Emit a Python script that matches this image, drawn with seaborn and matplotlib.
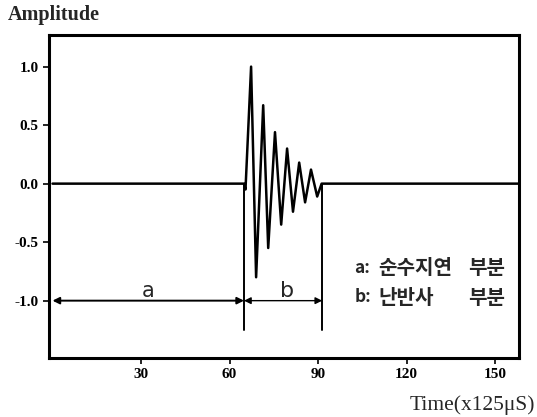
import matplotlib
matplotlib.use("Agg")
import matplotlib.pyplot as plt
import seaborn as sns
import pandas as pd

# data
time = [0, 64.9, 65.4, 67.3, 69.0, 71.4, 73.1, 75.4, 77.5, 79.5, 81.5, 83.6, 85.6, 87.6, 89.7, 91.2, 158]
amplitude = [0, 0, -0.05, 1.0, -0.80, 0.67, -0.55, 0.44, -0.35, 0.30, -0.24, 0.18, -0.16, 0.12, -0.11, 0, 0]
marker_times = [64.9, 91.4]
region_a = [0, 64.9]
region_b = [64.9, 91.4]
xticks = [30, 60, 90, 120, 150]
yticks = [1.0, 0.5, 0.0, -0.5, -1.0]
legend_keys = ["a:", "b:"]
legend_names = ["순수지연", "난반사"]
legend_suffix = ["부분", "부분"]

sns.set_style("ticks")
plt.rcParams['font.family'] = ['Liberation Serif', 'Noto Sans CJK KR', 'DejaVu Sans']

fig = plt.figure(figsize=(5.37, 4.17), dpi=100)
ax = fig.add_axes([0.0912, 0.1415, 0.8753, 0.7745])

df = pd.DataFrame({"t": time, "amp": amplitude})
sns.lineplot(data=df, x="t", y="amp", ax=ax, color="black", linewidth=1.8, estimator=None)

for mt in marker_times:
    ax.plot([mt, mt], [0, -1.25], color="black", linewidth=1.4)

ax.annotate("", xy=(region_a[0], -1.0), xytext=(region_a[1], -1.0),
            arrowprops=dict(arrowstyle="<|-|>", color="black", lw=1.4, shrinkA=0, shrinkB=0,
                            mutation_scale=10))
ax.annotate("", xy=(region_b[0], -1.0), xytext=(region_b[1], -1.0),
            arrowprops=dict(arrowstyle="<|-|>", color="black", lw=1.0, shrinkA=0, shrinkB=0,
                            mutation_scale=10))
ax.text(32.4, -0.92, "a", fontsize=15, ha="center", va="center", family=['DejaVu Sans'])
ax.text(79.5, -0.92, "b", fontsize=16, ha="center", va="center", family=['DejaVu Sans'])

kfam = ['Noto Sans CJK KR', 'DejaVu Sans']
for i, yv in enumerate([-0.72, -0.97]):
    ax.text(102.3, yv, legend_keys[i], fontsize=12.5, fontweight="bold", ha="left", va="center", family=kfam)
    ax.text(110.3, yv, legend_names[i], fontsize=14.5, fontweight="bold", ha="left", va="center", family=kfam)
    ax.text(141.0, yv, legend_suffix[i], fontsize=14.5, fontweight="bold", ha="left", va="center", family=kfam)

ax.set_xlim(-1.2, 158.1)
ax.set_ylim(-1.49, 1.27)
ax.set_xticks(xticks)
ax.set_xticklabels([str(v) for v in xticks], fontsize=11, fontweight="bold")
ax.set_yticks(yticks)
ax.set_yticklabels([f"{v:.1f}" for v in yticks], fontsize=11, fontweight="bold")
ax.tick_params(direction="out", length=4, width=1.2, colors="black")
ax.set_xlabel("")
ax.set_ylabel("")
for s in ax.spines.values():
    s.set_linewidth(2.2)
    s.set_color("black")

fig.text(8 / 537, 1 - 15 / 417, "Amplitude", fontsize=14.5, fontweight="bold", ha="left", va="center")
fig.text(535 / 537, 1 - 405 / 417, "Time(x125\u03bcS)", fontsize=15.5, ha="right", va="center")

fig.savefig("out.png", dpi=100)
